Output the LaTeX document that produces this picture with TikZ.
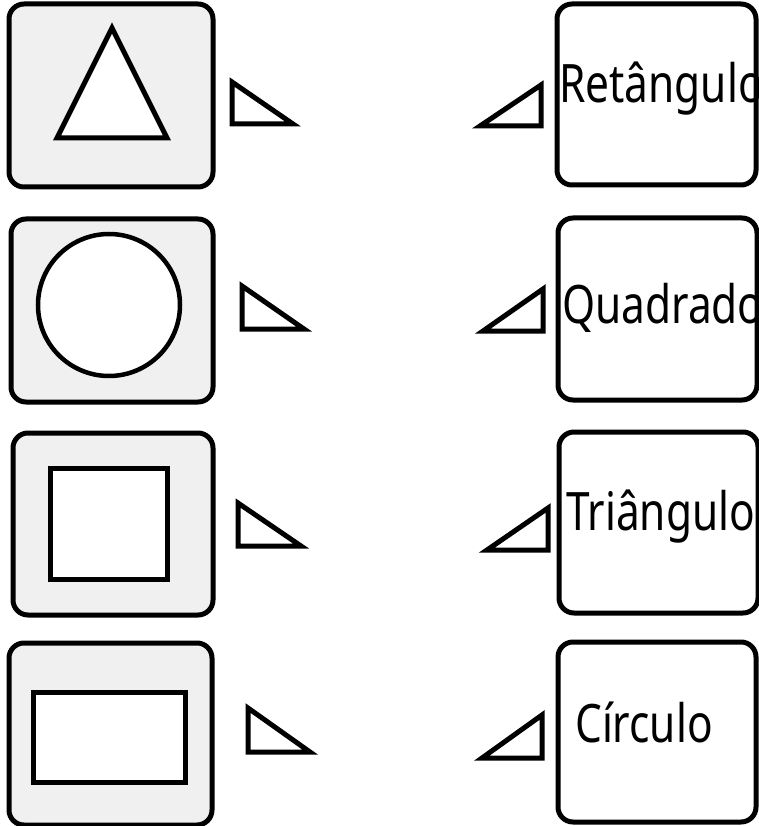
\documentclass[tikz,border=0pt]{standalone}
\usepackage{fontspec}
\setmainfont[FakeStretch=0.80]{Noto Sans}
\definecolor{boxgray}{RGB}{240,240,240}
\tikzset{
  lbox/.style={draw=black, line width=5pt, rounded corners=15pt, fill=boxgray, inner sep=0pt},
  rbox/.style={draw=black, line width=5pt, rounded corners=15pt, inner sep=0pt},
  inshape/.style={draw=black, line width=5pt, fill=white},
  tri/.style={draw=black, line width=5pt, fill=white, line join=miter},
  lbl/.style={anchor=base west, inner sep=0pt, font=\fontsize{53}{60}\selectfont},
}
\begin{document}
\begin{tikzpicture}[x=1pt, y=-1pt]
\useasboundingbox (0,0) rectangle (759,826);
% left boxes
\node[lbox, minimum width=204pt, minimum height=183pt] (l1) at (111,95.5) {};
\node[lbox, minimum width=202pt, minimum height=183pt] (l2) at (112,310.5) {};
\node[lbox, minimum width=200pt, minimum height=182pt] (l3) at (113,524) {};
\node[lbox, minimum width=203pt, minimum height=182pt] (l4) at (110.5,734) {};
% inner shapes
\draw[inshape, line join=miter] (112,28) -- (57,138) -- (167,138) -- cycle;
\draw[inshape, line width=4.5pt] (109,305) circle (71);
\draw[inshape] (50,468) rectangle (167,579);
\draw[inshape] (33,692) rectangle (185,782);
% small triangles, left side
\draw[tri] (232,82) -- (232,124) -- (293,124) -- cycle;
\draw[tri] (242,286) -- (242,329) -- (304,329) -- cycle;
\draw[tri] (238,503) -- (238,546) -- (301,546) -- cycle;
\draw[tri] (248,708) -- (248,752) -- (310,752) -- cycle;
% small triangles, right side
\draw[tri] (480,126) -- (541,85) -- (541,126) -- cycle;
\draw[tri] (483,331) -- (543,289) -- (543,331) -- cycle;
\draw[tri] (487,550) -- (548,508) -- (548,550) -- cycle;
\draw[tri] (482,758) -- (542,715) -- (542,758) -- cycle;
% labels
\node[lbl] (t1) at (559,103) {Retângulo};
\node[lbl] (t2) at (562,323) {Quadrado};
\node[lbl] (t3) at (566,530) {Triângulo};
\node[lbl] (t4) at (575,742) {Círculo};
% right boxes (drawn over the labels)
\node[rbox, minimum width=199pt, minimum height=181pt] (r1) at (656.5,94.5) {};
\node[rbox, minimum width=199pt, minimum height=182pt] (r2) at (657.5,309) {};
\node[rbox, minimum width=199pt, minimum height=181pt] (r3) at (658.5,522.5) {};
\node[rbox, minimum width=198pt, minimum height=180pt] (r4) at (657,732) {};
\end{tikzpicture}
\end{document}
